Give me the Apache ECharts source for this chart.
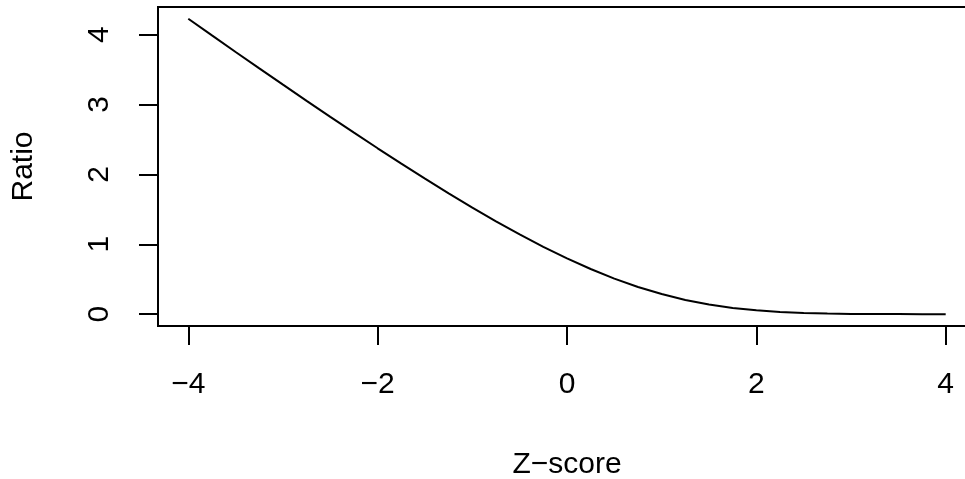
<!DOCTYPE html>
<html>
<head>
<meta charset="utf-8">
<script src="https://cdn.jsdelivr.net/npm/echarts@6/dist/echarts.min.js"></script>
<style>html,body{margin:0;padding:0;background:#fff;}#c{width:965px;height:479px;}</style>
</head>
<body>
<div id="c"></div>
<script>
const zScores = [-4,-3.75,-3.5,-3.25,-3,-2.75,-2.5,-2.25,-2,-1.75,-1.5,-1.25,-1,-0.75,-0.5,-0.25,0,0.25,0.5,0.75,1,1.25,1.5,1.75,2,2.25,2.5,2.75,3,3.25,3.5,3.75,4];
const ratios = [4.226,3.988,3.751,3.516,3.283,3.052,2.823,2.596,2.373,2.154,1.939,1.729,1.525,1.329,1.141,0.964,0.798,0.646,0.509,0.389,0.288,0.204,0.139,0.090,0.055,0.032,0.018,0.009,0.004,0.002,0.001,0.0004,0.0001];
const xTicks = [-4,-2,0,2,4];
const yTicks = [0,1,2,3,4];

const font = '"Liberation Sans", Arial, Helvetica, sans-serif';
const fmt = v => String(v).replace('-', '\u2212');
const chart = echarts.init(document.getElementById('c'), null, {renderer:'canvas'});
chart.setOption({
  animation:false,
  backgroundColor:'#fff',
  grid:{left:158, top:7, width:818, height:319, outerBoundsMode:'none', containLabel:false, show:true, borderColor:'#000', borderWidth:2, backgroundColor:'transparent'},
  xAxis:{
    type:'value', min:-4.32, max:4.32,
    name:'Z\u2212score', nameLocation:'middle', nameGap:124,
    nameTextStyle:{color:'#000', fontSize:30, fontFamily:font},
    axisLine:{show:false, onZero:false},
    splitLine:{show:false},
    axisTick:{show:true, inside:false, length:19, customValues:xTicks, lineStyle:{color:'#000', width:2}},
    axisLabel:{customValues:xTicks, formatter:fmt, margin:44, color:'#000', fontSize:30, fontFamily:font}
  },
  yAxis:{
    type:'value', min:-0.169, max:4.394,
    name:'Ratio', nameLocation:'middle', nameGap:119, nameRotate:90,
    nameTextStyle:{color:'#000', fontSize:30, fontFamily:font},
    axisLine:{show:false, onZero:false},
    splitLine:{show:false},
    axisTick:{show:true, inside:false, length:19, customValues:yTicks, lineStyle:{color:'#000', width:2}},
    axisLabel:{customValues:yTicks, formatter:fmt, rotate:90, margin:43, color:'#000', fontSize:30, fontFamily:font}
  },
  series:[{
    type:'line', data:zScores.map((z,i)=>[z, ratios[i]]),
    showSymbol:false, symbol:'none',
    lineStyle:{color:'#000', width:2}
  }]
});
</script>
</body>
</html>
